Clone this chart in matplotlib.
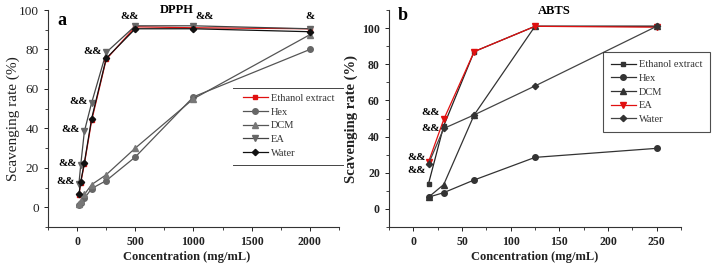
import numpy as np
import matplotlib.pyplot as plt

plt.rcParams['font.family'] = ['Liberation Serif', 'DejaVu Serif']

# DPPH (panel a)
conc_dpph = [15.625, 31.25, 62.5, 125, 250, 500, 1000, 2000]
dpph_ethanol = [6, 12.5, 22, 44, 75, 91.5, 91, 90.5]
dpph_hex = [1, 2, 4.5, 9.5, 13.5, 25.5, 56, 80]
dpph_dcm = [1.5, 3, 6.5, 11.5, 16.5, 30, 55, 87.5]
dpph_ea = [12, 21.5, 38.5, 53, 78.5, 92, 92, 90.5]
dpph_water = [6.5, 13, 22.6, 45, 75.5, 90.5, 90.5, 89]

# ABTS (panel b)
conc_abts = [15.625, 31.25, 62.5, 125, 250]
abts_ethanol = [14, 46, 87, 101, 101]
abts_hex = [6.5, 9, 16, 28.5, 33.5]
abts_dcm = [6.5, 13.5, 52, 101, 101]
abts_ea = [26, 49.5, 87, 101, 100.5]
abts_water = [25, 44.5, 52, 68, 101]

labels = ['Ethanol extract', 'Hex', 'DCM', 'EA', 'Water']

fig = plt.figure(figsize=(7.22, 2.71), dpi=100)
ax1 = fig.add_axes([0.0665, 0.1624, 0.403, 0.8006])
ax2 = fig.add_axes([0.5388, 0.1624, 0.4044, 0.8006])

ms = 4
lw = 0.9

# ---- panel a
ax1.plot(conc_dpph, dpph_ethanol, '-s', color='#e01010', mfc='#e01010', mec='#e01010', ms=3.5, lw=lw, label=labels[0])
ax1.plot(conc_dpph, dpph_hex, '-o', color='#555555', mfc='#666666', mec='#666666', ms=ms, lw=lw, label=labels[1])
ax1.plot(conc_dpph, dpph_dcm, '-^', color='#555555', mfc='#777777', mec='#777777', ms=ms, lw=lw, label=labels[2])
ax1.plot(conc_dpph, dpph_ea, '-v', color='#444444', mfc='#666666', mec='#666666', ms=ms, lw=lw, label=labels[3])
ax1.plot(conc_dpph, dpph_water, '-D', color='#111111', mfc='#111111', mec='#111111', ms=3.2, lw=lw, label=labels[4])

ax1.set_xlim(-250, 2250)
ax1.set_ylim(-10, 100)
ax1.set_xticks([0, 500, 1000, 1500, 2000])
ax1.set_xticks(np.arange(-250, 2251, 250), minor=True)
ax1.set_yticks([0, 20, 40, 60, 80, 100])
ax1.set_yticks(np.arange(-10, 101, 10), minor=True)

# significance marks, panel a
amp_kw = dict(textcoords='offset points', fontsize=8, fontweight='bold', va='center')
for i in [1, 2, 3, 4]:
    ax1.annotate('&&', xy=(conc_dpph[i], dpph_ea[i]), xytext=(-3, 1), ha='right', **amp_kw)
ax1.annotate('&&', xy=(conc_dpph[1], dpph_water[1]), xytext=(-4, 0), ha='right', **amp_kw)
ax1.annotate('&&', xy=(conc_dpph[5], dpph_ea[5]), xytext=(-4, 7), ha='center', **amp_kw)
ax1.annotate('&&', xy=(conc_dpph[6], dpph_ea[6]), xytext=(8, 7), ha='center', **amp_kw)
ax1.annotate('&', xy=(conc_dpph[7], dpph_ea[7]), xytext=(0, 9), ha='center', **amp_kw)

ax1.text(0.443, 1.0, 'DPPH', transform=ax1.transAxes, ha='center', va='center',
         fontsize=9, fontweight='bold')
ax1.text(0.048, 0.954, 'a', transform=ax1.transAxes, ha='center', va='center',
         fontsize=13, fontweight='bold')

leg1 = ax1.legend(loc='upper left', bbox_to_anchor=(0.67, 0.615), frameon=False,
                  fontsize=7.5, handlelength=2.4, handletextpad=0.3,
                  labelspacing=0.42, borderpad=0, borderaxespad=0)
for t in leg1.get_texts():
    t.set_color('#333333')
# thin rules above and below the legend
ax1.plot([0.636, 1.014], [0.6406, 0.6406], transform=ax1.transAxes, color='#444444', lw=0.7, clip_on=False)
ax1.plot([0.636, 1.014], [0.2857, 0.2857], transform=ax1.transAxes, color='#444444', lw=0.7, clip_on=False)

# ---- panel b
ax2.plot(conc_abts, abts_ethanol, '-s', color='#222222', mfc='#333333', mec='#333333', ms=3.5, lw=lw, label=labels[0])
ax2.plot(conc_abts, abts_hex, '-o', color='#333333', mfc='#333333', mec='#333333', ms=ms, lw=lw, label=labels[1])
ax2.plot(conc_abts, abts_dcm, '-^', color='#333333', mfc='#333333', mec='#333333', ms=ms, lw=lw, label=labels[2])
ax2.plot(conc_abts, abts_ea, '-v', color='#e01010', mfc='#e01010', mec='#e01010', ms=ms, lw=lw, label=labels[3])
ax2.plot(conc_abts, abts_water, '-D', color='#444444', mfc='#333333', mec='#333333', ms=3.2, lw=lw, label=labels[4])

ax2.set_xlim(-25, 275)
ax2.set_ylim(-10, 110)
ax2.set_xticks([0, 50, 100, 150, 200, 250])
ax2.set_xticks(np.arange(-25, 276, 25), minor=True)
ax2.set_yticks([0, 20, 40, 60, 80, 100])
ax2.set_yticks(np.arange(-10, 111, 10), minor=True)

ax2.annotate('&&', xy=(conc_abts[1], abts_ea[1]), xytext=(-3, 5), ha='right', **amp_kw)
ax2.annotate('&&', xy=(conc_abts[1], abts_water[1]), xytext=(-3, 0), ha='right', **amp_kw)
ax2.annotate('&&', xy=(conc_abts[0], abts_ea[0]), xytext=(-2, 3), ha='right', **amp_kw)
ax2.annotate('&&', xy=(conc_abts[0], abts_water[0]), xytext=(-2, -5), ha='right', **amp_kw)

ax2.text(0.565, 0.995, 'ABTS', transform=ax2.transAxes, ha='center', va='center',
         fontsize=9, fontweight='bold')
ax2.text(0.048, 0.977, 'b', transform=ax2.transAxes, ha='center', va='center',
         fontsize=13, fontweight='bold')

leg2 = ax2.legend(loc='upper left', bbox_to_anchor=(0.733, 0.806), frameon=True,
                  fancybox=False, edgecolor='#222222', fontsize=7.5, handlelength=2.4,
                  handletextpad=0.3, labelspacing=0.42, borderpad=0.75, borderaxespad=0)
leg2.get_frame().set_linewidth(0.8)
for t in leg2.get_texts():
    t.set_color('#333333')

for ax in (ax1, ax2):
    ax.spines['top'].set_visible(False)
    ax.spines['right'].set_visible(False)
    ax.spines['left'].set_color('#333333')
    ax.spines['bottom'].set_color('#333333')
    ax.tick_params(which='major', direction='out', length=3, width=0.7, labelsize=8.5, colors='#222222')
    ax.tick_params(which='minor', direction='out', length=2, width=0.6, colors='#222222')
    for lab in ax.get_xticklabels() + ax.get_yticklabels():
        lab.set_fontweight('bold')
    ax.set_xlabel('Concentration (mg/mL)', fontsize=9, fontweight='bold', color='#222222')

# panel a y ticks are larger and plain
ax1.tick_params(axis='y', labelsize=9.5)
for lab in ax1.get_yticklabels():
    lab.set_fontweight('normal')

ax1.set_ylabel('Scavenging rate (%)', fontsize=11, color='#222222')
ax2.set_ylabel('Scavenging rate (%)', fontsize=10.5, fontweight='bold', color='#222222')
ax1.yaxis.set_label_coords(-0.096, 0.5)
ax2.yaxis.set_label_coords(-0.106, 0.5)
ax1.xaxis.set_label_coords(0.475, -0.11)
ax2.xaxis.set_label_coords(0.5, -0.11)

fig.savefig('out.png', dpi=100)
